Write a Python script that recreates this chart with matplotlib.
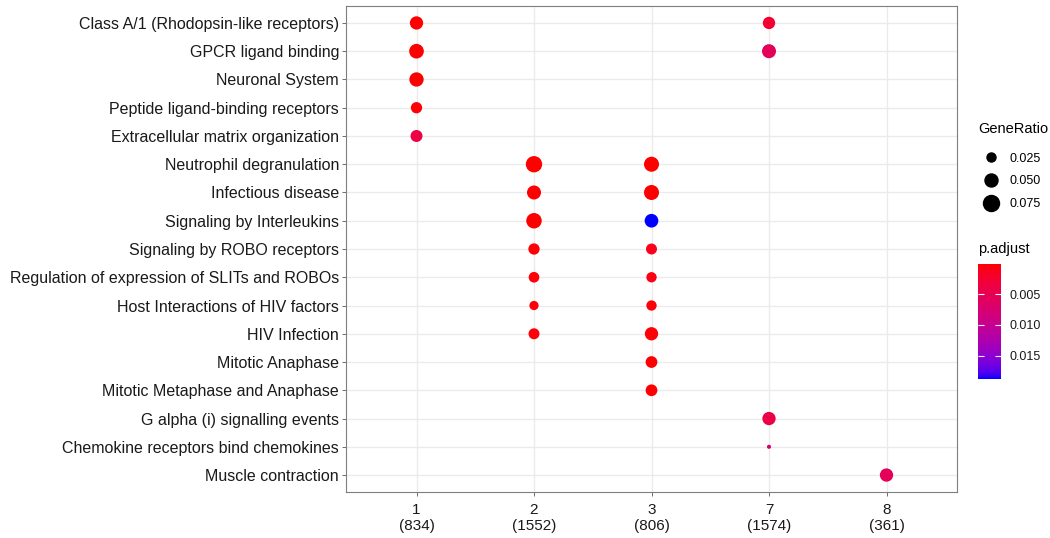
import numpy as np
import matplotlib
matplotlib.use('Agg')
import matplotlib.pyplot as plt
from matplotlib.colors import LinearSegmentedColormap, Normalize
from matplotlib.lines import Line2D
import matplotlib.colorbar as mcolorbar

plt.rcParams['font.family'] = ['Liberation Sans', 'DejaVu Sans']

# clusters on x axis
clusters = ['1', '2', '3', '7', '8']
cluster_sizes = [834, 1552, 806, 1574, 361]

# pathway terms, top to bottom
terms = ['Class A/1 (Rhodopsin-like receptors)', 'GPCR ligand binding', 'Neuronal System',
         'Peptide ligand-binding receptors', 'Extracellular matrix organization',
         'Neutrophil degranulation', 'Infectious disease', 'Signaling by Interleukins',
         'Signaling by ROBO receptors', 'Regulation of expression of SLITs and ROBOs',
         'Host Interactions of HIV factors', 'HIV Infection', 'Mitotic Anaphase',
         'Mitotic Metaphase and Anaphase', 'G alpha (i) signalling events',
         'Chemokine receptors bind chemokines', 'Muscle contraction']

# one entry per dot
pt_cluster = ['1', '7', '1', '7', '1', '1', '1',
              '2', '3', '2', '3', '2', '3', '2', '3', '2', '3', '2', '3', '2', '3',
              '3', '3', '7', '7', '8']
pt_term = ['Class A/1 (Rhodopsin-like receptors)', 'Class A/1 (Rhodopsin-like receptors)',
           'GPCR ligand binding', 'GPCR ligand binding', 'Neuronal System',
           'Peptide ligand-binding receptors', 'Extracellular matrix organization',
           'Neutrophil degranulation', 'Neutrophil degranulation',
           'Infectious disease', 'Infectious disease',
           'Signaling by Interleukins', 'Signaling by Interleukins',
           'Signaling by ROBO receptors', 'Signaling by ROBO receptors',
           'Regulation of expression of SLITs and ROBOs', 'Regulation of expression of SLITs and ROBOs',
           'Host Interactions of HIV factors', 'Host Interactions of HIV factors',
           'HIV Infection', 'HIV Infection',
           'Mitotic Anaphase', 'Mitotic Metaphase and Anaphase',
           'G alpha (i) signalling events', 'Chemokine receptors bind chemokines',
           'Muscle contraction']
gene_ratio = [0.052, 0.045, 0.063, 0.0575, 0.060, 0.038, 0.0426,
              0.078, 0.066, 0.0575, 0.066, 0.070, 0.055, 0.038, 0.036, 0.034, 0.032,
              0.026, 0.032, 0.036, 0.052, 0.041, 0.041, 0.052, 0.0075, 0.052]
p_adjust = [0.0002, 0.0025, 0.0002, 0.0055, 0.0001, 0.0003, 0.004,
            0.0001, 0.0001, 0.0001, 0.0001, 0.0001, 0.0188, 0.0003, 0.0012, 0.0003, 0.0008,
            0.0004, 0.0005, 0.0004, 0.0003, 0.0002, 0.0002, 0.004, 0.0075, 0.0055]

size_breaks = [0.025, 0.050, 0.075]
p_breaks = [0.005, 0.010, 0.015]


# red -> blue gradient interpolated in Lab, like ggplot
def rgb2lab(c):
    c = np.asarray(c, float)
    lin = np.where(c > 0.04045, ((c + 0.055) / 1.055) ** 2.4, c / 12.92)
    M = np.array([[0.4124, 0.3576, 0.1805], [0.2126, 0.7152, 0.0722], [0.0193, 0.1192, 0.9505]])
    X, Y, Z = M @ lin
    X, Z = X / 0.95047, Z / 1.08883
    f = lambda t: t ** (1 / 3) if t > 0.008856 else 7.787 * t + 16 / 116
    return np.array([116 * f(Y) - 16, 500 * (f(X) - f(Y)), 200 * (f(Y) - f(Z))])


def lab2rgb(lab):
    L, a, b = lab
    fy = (L + 16) / 116
    fx = fy + a / 500
    fz = fy - b / 200
    finv = lambda t: t ** 3 if t ** 3 > 0.008856 else (t - 16 / 116) / 7.787
    xyz = np.array([0.95047 * finv(fx), finv(fy), 1.08883 * finv(fz)])
    M = np.array([[3.2406, -1.5372, -0.4986], [-0.9689, 1.8758, 0.0415], [0.0557, -0.2040, 1.0570]])
    lin = M @ xyz
    rgb = np.where(lin > 0.0031308, 1.055 * np.abs(lin) ** (1 / 2.4) - 0.055, 12.92 * lin)
    return np.clip(rgb, 0, 1)


lab_lo, lab_hi = rgb2lab([1, 0, 0]), rgb2lab([0, 0, 1])
cmap = LinearSegmentedColormap.from_list(
    'redblue', [lab2rgb(lab_lo + t * (lab_hi - lab_lo)) for t in np.linspace(0, 1, 32)])
norm = Normalize(vmin=min(p_adjust), vmax=max(p_adjust))


def dot_px(g):
    # dot diameter in pixels (sqrt scale, fitted to the legend keys)
    g = np.asarray(g, float)
    return 0.7 + 57.5 * np.sqrt(np.clip(g - 0.004, 0, None))


fig = plt.figure(figsize=(10.5, 5.38), dpi=100)
ax = fig.add_axes([346 / 1050, 1 - 492 / 538, (957 - 346) / 1050, (492 - 6) / 538])

xs = [clusters.index(c) + 1 for c in pt_cluster]
ys = [terms.index(t) + 1 for t in pt_term]
ax.scatter(xs, ys, s=(dot_px(gene_ratio) * 0.72) ** 2, c=p_adjust, cmap=cmap, norm=norm,
           edgecolors='none', zorder=3)

ax.set_xlim(0.4, len(clusters) + 0.6)
ax.set_ylim(len(terms) + 0.6, 0.4)
ax.set_xticks(range(1, len(clusters) + 1))
ax.set_xticklabels(['%s\n(%d)' % (c, n) for c, n in zip(clusters, cluster_sizes)],
                   fontsize=11, color='#1a1a1a', linespacing=1.2)
ax.set_yticks(range(1, len(terms) + 1))
ax.set_yticklabels(terms, fontsize=11.5, color='#1a1a1a')
ax.tick_params(length=3, width=0.6, color='#555555', pad=2)
ax.tick_params(axis='x', pad=5)
ax.grid(True, color='#ebebeb', linewidth=1.0, zorder=0)
ax.set_axisbelow(True)
for sp in ax.spines.values():
    sp.set_color('#7f7f7f')
    sp.set_linewidth(0.8)

# size legend
handles = [Line2D([], [], marker='o', linestyle='none', color='black',
                  markersize=dot_px(b) * 0.72) for b in size_breaks]
leg = fig.legend(handles, ['%.3f' % b for b in size_breaks], title='GeneRatio',
                 loc='upper left', bbox_to_anchor=(978 / 1050, 1 - 122 / 538),
                 frameon=False, fontsize=9, title_fontsize=10.5, handletextpad=0.48,
                 labelspacing=0.85, borderaxespad=0, borderpad=0, handlelength=2.0)
leg._legend_box.align = 'left'
leg._legend_box.sep = 12

# colour legend
fig.text(978 / 1050, 1 - 249 / 538, 'p.adjust', fontsize=10.5, va='center', ha='left')
cax = fig.add_axes([978 / 1050, 1 - 379 / 538, 23 / 1050, 115 / 538])
cb = mcolorbar.ColorbarBase(cax, cmap=cmap, norm=norm, orientation='vertical')
cb.set_ticks(p_breaks)
cb.set_ticklabels(['%.3f' % b for b in p_breaks])
cb.outline.set_visible(False)
cax.invert_yaxis()
cax.tick_params(direction='in', length=4, width=0.8, color='white', left=True, right=True,
                labelleft=False, labelright=True, labelsize=9, labelcolor='#1a1a1a', pad=6)

fig.savefig('out.png', dpi=100)
